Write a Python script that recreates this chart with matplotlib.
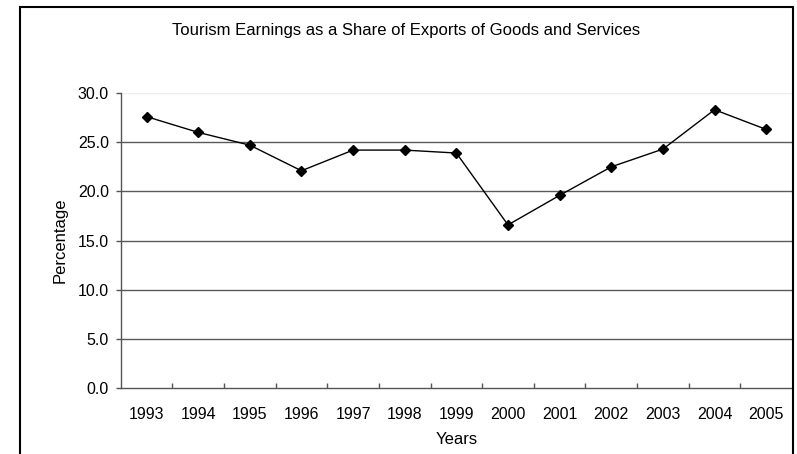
import numpy as np
import matplotlib
matplotlib.use('Agg')
import matplotlib.pyplot as plt
from matplotlib.patches import Rectangle

plt.rcParams['font.family'] = ['Liberation Sans', 'DejaVu Sans']

years = ['1993', '1994', '1995', '1996', '1997', '1998', '1999',
         '2000', '2001', '2002', '2003', '2004', '2005']
share = [27.6, 26.0, 24.7, 22.1, 24.2, 24.2, 23.9,
         16.6, 19.6, 22.5, 24.3, 28.3, 26.3]
y_ticks = [0, 5, 10, 15, 20, 25, 30]

W, H = 797, 454
fig = plt.figure(figsize=(W / 100, H / 100), dpi=100)
ax = fig.add_axes([120.7 / W, 1 - 388.3 / H, (792 - 120.7) / W, (388.3 - 93) / H])

x = np.arange(len(years))
ax.plot(x, share, color='black', lw=1, marker='D', markersize=5,
        markerfacecolor='black', markeredgecolor='black', zorder=3)

ax.set_xlim(-0.5, len(years) - 0.5)
ax.set_ylim(0, 30)
ax.set_yticks(y_ticks)
ax.set_yticklabels([f'{v:.1f}' for v in y_ticks], fontsize=11.5)
ax.set_xticks(x)
ax.set_xticklabels(years, fontsize=11.5)
ax.set_xticks(np.arange(0.5, len(years) - 1, 1), minor=True)
ax.tick_params(axis='x', which='major', length=0, pad=13.5)
ax.tick_params(axis='x', which='minor', direction='in', length=3.5, color='#555555', width=1)
ax.tick_params(axis='y', direction='out', length=3.5, color='#555555', width=1, pad=5)

for v in y_ticks[1:-1]:
    ax.axhline(v, color='#5a5a5a', lw=1, zorder=1)
ax.axhline(30, color='#eeeeee', lw=1, zorder=1)

for s in ['top', 'right']:
    ax.spines[s].set_visible(False)
for s in ['left', 'bottom']:
    ax.spines[s].set_color('#555555')
    ax.spines[s].set_linewidth(1)

ax.set_ylabel('Percentage', fontsize=12)
ax.yaxis.set_label_coords(-0.0785, 0.5)
ax.set_xlabel('Years', fontsize=12, va='top')
ax.xaxis.set_label_coords(0.5, -0.148)

fig.text(406.5 / W, 1 - 35.5 / H, 'Tourism Earnings as a Share of Exports of Goods and Services',
         ha='center', va='baseline', fontsize=12)

# chart area border
fig.patches.append(Rectangle((20 / W, -0.05), (793 - 20) / W, 1.05 - 6.5 / H,
                             transform=fig.transFigure, fill=False,
                             edgecolor='black', lw=1.5))

fig.savefig('out.png', dpi=100)
